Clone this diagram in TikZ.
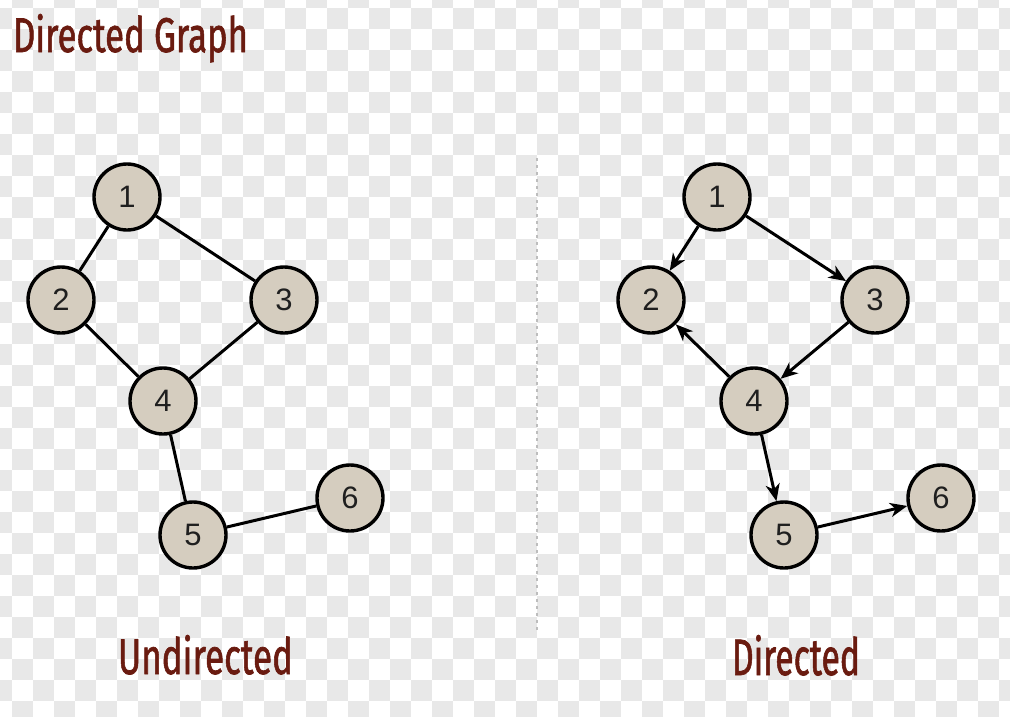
\documentclass[tikz,border=0pt]{standalone}
\usepackage{fontspec}
\usetikzlibrary{arrows.meta}
\newfontfamily\titlefont[FakeBold=1.5]{Fira Sans}
\newfontfamily\numfont{Liberation Sans}
\definecolor{chkgrey}{HTML}{E8E8E8}
\definecolor{nodefill}{HTML}{D5CDBF}
\definecolor{titlered}{HTML}{6A1B10}
\definecolor{divgrey}{HTML}{BDBDBD}
\tikzset{
  vertex/.style={circle, draw=black, line width=3.4pt, fill=nodefill,
    minimum size=66pt, inner sep=0pt, text=black!88,
    font=\numfont\fontsize{31}{31}\selectfont},
  edge/.style={line width=3pt, draw=black},
  arc/.style={edge, -{Stealth[length=17pt,width=14pt,inset=5pt]}},
  heading/.style={inner sep=0pt, outer sep=0pt, text=titlered, anchor=base west}
}
\begin{document}
\begin{tikzpicture}[x=1pt,y=-1pt]
\useasboundingbox (0,0) rectangle (1010,716);
\fill[white] (0,0) rectangle (1010,716);
% checkerboard background
\begin{scope}
\clip (0,0) rectangle (1010,716);
\foreach \i in {0,...,48}{
  \foreach \j in {0,...,34}{
    \pgfmathtruncatemacro\cellsum{\i+\j}
    \ifodd\cellsum
      \fill[chkgrey] (-9+21*\i,-13+21*\j) rectangle ++(21,21);
    \fi
  }
}
\end{scope}
% divider
\coordinate (dtop) at (537,158);
\coordinate (dbot) at (537,632);
\draw[divgrey, line width=1.5pt, dash pattern=on 3pt off 4pt] (dtop) -- (dbot);
% headings
\node[heading] (title) at (13,52) {\resizebox{235pt}{38pt}{\titlefont Directed Graph}};
\node[heading] (lu) at (118,674) {\resizebox{175pt}{39pt}{\titlefont Undirected}};
\node[heading] (ld) at (732,675) {\resizebox{128pt}{40pt}{\titlefont Directed}};
% undirected graph
\node[vertex] (a1) at (127,197) {1};
\node[vertex] (a2) at (61,300) {2};
\node[vertex] (a3) at (284,300) {3};
\node[vertex] (a4) at (163,401) {4};
\node[vertex] (a5) at (193,535) {5};
\node[vertex] (a6) at (350,498) {6};
\draw[edge] (a1) -- (a2);
\draw[edge] (a1) -- (a3);
\draw[edge] (a2) -- (a4);
\draw[edge] (a3) -- (a4);
\draw[edge] (a4) -- (a5);
\draw[edge] (a5) -- (a6);
% directed graph
\node[vertex] (b1) at (717,197) {1};
\node[vertex] (b2) at (651,300) {2};
\node[vertex] (b3) at (875,300) {3};
\node[vertex] (b4) at (754,401) {4};
\node[vertex] (b5) at (784,535) {5};
\node[vertex] (b6) at (941,498) {6};
\draw[arc] (b1) -- (b2);
\draw[arc] (b1) -- (b3);
\draw[arc] (b3) -- (b4);
\draw[arc] (b4) -- (b2);
\draw[arc] (b4) -- (b5);
\draw[arc] (b5) -- (b6);
\end{tikzpicture}
\end{document}
